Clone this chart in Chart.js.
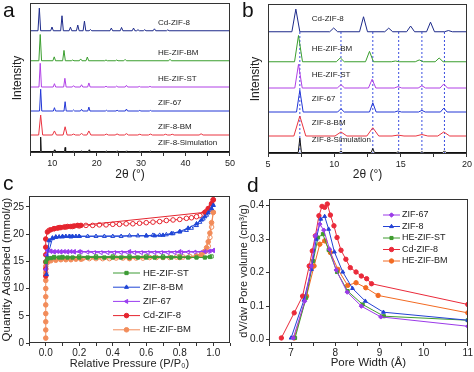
<!DOCTYPE html>
<html>
<head>
<meta charset="utf-8">
<script src="https://cdn.jsdelivr.net/npm/chart.js@4.4.1/dist/chart.umd.min.js"></script>
<style>
  body { margin: 0; background: #fff; }
  #wrap { position: relative; width: 474px; height: 372px; overflow: hidden; font-family: "Liberation Sans", Arial, sans-serif; }
  #wrap canvas { position: absolute; }
  .tag { position: absolute; font-size: 21px; line-height: 1; color: #111; }
</style>
</head>
<body>
<div id="wrap">
  <canvas id="xrdWide" width="237" height="186" style="left:0;top:0"></canvas>
  <canvas id="xrdZoom" width="237" height="186" style="left:237px;top:0"></canvas>
  <canvas id="isotherm" width="237" height="186" style="left:0;top:186px"></canvas>
  <canvas id="poreDist" width="237" height="186" style="left:237px;top:186px"></canvas>
  <div class="tag" style="left:3px;top:-1px">a</div>
  <div class="tag" style="left:242px;top:-1px">b</div>
  <div class="tag" style="left:3px;top:172px">c</div>
  <div class="tag" style="left:247px;top:174px">d</div>
</div>
<script>
// ---- XRD patterns (a, b): peak position (2θ), height above baseline ----
const xrdSamples = ['Cd-ZIF-8', 'HE-ZIF-BM', 'HE-ZIF-ST', 'ZIF-67', 'ZIF-8-BM', 'ZIF-8-Simulation'];
const xrdColors  = ['#1d2a8a', '#3a9e2e', '#b040e6', '#2236d6', '#ea3440', '#111111'];
const xrdOffsets = [81.5, 61.5, 44, 28, 12, 1];
const peakWidth  = [0.3, 0.3, 0.28, 0.25, 0.45, 0.12];

const peaksCd   = [[7.1,15.1],[9.95,2.5],[12.2,10],[14.1,2.4],[15.75,3.8],[17.25,6.4],[18.6,0.8],[23.3,1.8],[25.6,2.2],[28.3,1.8],[29.3,0.7],[30.8,0.7],[33.0,1.3],[36.0,0.6]];
const peaksHeBm = [[7.3,17.5],[10.45,2.6],[12.65,6.9],[14.6,0.5],[16.4,1.2],[17.9,2.5],[22.1,0.5],[24.5,0.5],[26.4,0.9],[36.5,1.0]];
const peaksHeSt = [[7.3,15.8],[10.5,2.2],[12.85,5.8],[14.8,0.9],[16.6,1.5],[18.25,2.7],[22.1,0.5],[24.5,0.6],[26.7,1.1],[29.6,0.4],[32.0,0.4]];
const peaksZ67  = [[7.4,14.5],[10.5,2.2],[12.9,6.2],[14.8,0.7],[16.6,1.1],[18.25,2.6],[22.2,0.5],[24.6,0.5],[26.7,1.3],[29.7,0.4],[32.1,0.4]];
const peaksZ8Bm = [[7.4,13.3],[10.5,2.7],[12.9,5.5],[14.8,0.6],[16.6,1.0],[18.25,2.7],[22.2,0.6],[24.6,0.7],[26.7,0.9],[29.7,0.5],[32.1,0.6],[35.5,0.5],[37.0,0.5],[43.5,0.8]];
const peaksSim  = [[7.4,9.6],[10.5,1.1],[12.9,2.7],[14.8,0.4],[16.6,0.5],[18.3,1.1],[22.2,0.3],[24.6,0.4],[26.7,0.4],[29.7,0.3],[32.1,0.3]];
const xrdPeaks  = [peaksCd, peaksHeBm, peaksHeSt, peaksZ67, peaksZ8Bm, peaksSim];

const guideLines = [7.4, 10.5, 12.9, 14.85, 16.6, 18.3];
const guideTop = 82;

// ---- N2 isotherms (c): [P/P0, mmol/g], adsorption filled, desorption open ----
const isoNames  = ['HE-ZIF-ST', 'ZIF-8-BM', 'ZIF-67', 'Cd-ZIF-8', 'HE-ZIF-BM'];
const isoColors = ['#3d9b35', '#1f45d6', '#9a3cf0', '#e5252f', '#f28c5a'];
const isoShapes = ['rect', 'triangle', 'triangle', 'circle', 'circle'];
const isoRotate = [0, 0, 270, 0, 0];

const stAds = [[0.0,14.9],[0.01,15.5],[0.03,15.6],[0.05,15.7],[0.08,15.7],[0.1,15.7],[0.13,15.7],[0.16,15.7],[0.2,15.7],[0.25,15.7],[0.3,15.7],[0.35,15.7],[0.4,15.7],[0.45,15.7],[0.5,15.7],[0.55,15.7],[0.6,15.7],[0.65,15.7],[0.7,15.7],[0.75,15.7],[0.8,15.7],[0.85,15.7],[0.9,15.7],[0.95,15.7],[0.98,15.8]];
const stDes = [[0.99,15.9],[0.9,15.9],[0.8,15.9],[0.7,15.9],[0.6,15.9],[0.5,15.9],[0.4,15.9],[0.3,15.9],[0.2,15.9],[0.1,15.8],[0.05,15.8]];
const bmAds = [[0.005,12.6],[0.01,15.8],[0.02,18.8],[0.04,19.3],[0.06,19.5],[0.08,19.5],[0.1,19.6],[0.12,19.6],[0.14,19.6],[0.16,19.6],[0.18,19.6],[0.2,19.6],[0.6,19.7],[0.65,19.7],[0.7,19.8],[0.75,20.1],[0.8,20.5],[0.85,21.1],[0.9,21.9],[0.93,22.6],[0.95,23.2],[0.97,23.9],[0.99,24.7],[1.0,25.3]];
const bmDes = [[1.0,25.3],[0.98,24.4],[0.96,23.5],[0.94,22.8],[0.92,22.2],[0.9,21.6],[0.87,21.1],[0.84,20.7],[0.8,20.4],[0.76,20.1],[0.72,19.9],[0.68,19.8],[0.64,19.8],[0.6,19.7],[0.55,19.7],[0.5,19.7],[0.45,19.6],[0.4,19.6],[0.35,19.6],[0.3,19.6],[0.25,19.6],[0.2,19.6],[0.15,19.5],[0.1,19.5],[0.06,19.4],[0.04,19.2],[0.02,17.0]];
const z67Ads = [[0.0,13.5],[0.005,16.2],[0.01,17.0],[0.03,16.9],[0.05,16.8],[0.07,16.8],[0.09,16.8],[0.11,16.8],[0.13,16.8],[0.15,16.8],[0.17,16.8],[0.2,16.8],[0.5,16.8],[0.8,16.8],[0.95,16.8],[0.98,16.9],[1.0,17.0]];
const z67Des = [[1.0,17.0],[0.97,16.8],[0.93,16.7],[0.89,16.7],[0.85,16.7],[0.81,16.6],[0.77,16.6],[0.73,16.6],[0.69,16.6],[0.65,16.6],[0.61,16.6],[0.57,16.6],[0.53,16.6],[0.49,16.6],[0.45,16.6],[0.41,16.6],[0.37,16.6],[0.33,16.6],[0.29,16.6],[0.25,16.7],[0.21,16.7],[0.17,16.7],[0.13,16.7],[0.09,16.7],[0.05,16.7],[0.03,16.8]];
const cdAds = [[0.0,12.3],[0.0,13.6],[0.0,14.9],[0.0,16.2],[0.0,17.6],[0.0,19.1],[0.01,20.4],[0.03,20.8],[0.05,21.0],[0.07,21.1],[0.09,21.2],[0.11,21.3],[0.13,21.4],[0.15,21.4],[0.17,21.5],[0.19,21.6],[0.21,21.6],[0.95,24.0],[0.97,24.7],[0.99,25.6],[1.0,26.3]];
const cdDes = [[1.0,26.3],[0.99,25.4],[0.98,24.8],[0.96,24.2],[0.94,23.7],[0.92,23.4],[0.9,23.2],[0.87,23.0],[0.84,22.9],[0.8,22.7],[0.76,22.6],[0.72,22.5],[0.68,22.3],[0.64,22.2],[0.6,22.1],[0.56,22.0],[0.52,21.9],[0.48,21.9],[0.44,21.8],[0.4,21.8],[0.36,21.7],[0.32,21.7],[0.28,21.6],[0.24,21.6],[0.2,21.5],[0.16,21.4],[0.12,21.3],[0.08,21.2],[0.05,21.0],[0.02,20.7]];
const beAds = [[0.0,0.9],[0.0,2.4],[0.0,3.9],[0.0,5.4],[0.0,7.0],[0.0,8.5],[0.0,10.0],[0.0,11.5],[0.0,12.9],[0.0,14.1],[0.01,14.8],[0.03,15.1],[0.06,15.2],[0.09,15.3],[0.12,15.3],[0.15,15.3],[0.18,15.4],[0.21,15.4],[0.5,15.5],[0.8,15.7],[0.9,15.9],[0.93,16.2],[0.95,16.8],[0.96,17.5],[0.97,18.6],[0.98,20.2],[0.99,22.1],[1.0,24.0]];
const beDes = [[1.0,24.0],[0.99,21.3],[0.98,19.4],[0.97,17.8],[0.95,16.8],[0.93,16.3],[0.9,16.0],[0.86,15.9],[0.82,15.8],[0.78,15.8],[0.74,15.7],[0.7,15.7],[0.66,15.7],[0.62,15.7],[0.58,15.6],[0.54,15.6],[0.5,15.6],[0.46,15.6],[0.42,15.6],[0.38,15.5],[0.34,15.5],[0.3,15.5],[0.26,15.5],[0.22,15.5]];
const isoAds = [stAds, bmAds, z67Ads, cdAds, beAds];
const isoDes = [stDes, bmDes, z67Des, cdDes, beDes];

// ---- pore size distribution (d): [width Å, dV/dw] ----
const poreNames  = ['ZIF-67', 'ZIF-8', 'HE-ZIF-ST', 'Cd-ZIF-8', 'HE-ZIF-BM'];
const poreColors = ['#9b3ae8', '#2442d4', '#3f9c2f', '#ea2a3a', '#f26a22'];
const poreShapes = ['rectRot', 'triangle', 'rect', 'circle', 'circle'];
const poreZ67 = [[7.05,0.005],[7.31,0.115],[7.46,0.22],[7.55,0.31],[7.65,0.345],[7.74,0.327],[7.87,0.27],[8.02,0.208],[8.27,0.142],[8.59,0.10],[9.03,0.068],[11,0.04]];
const poreZ8  = [[7.0,0.005],[7.29,0.118],[7.46,0.21],[7.57,0.30],[7.67,0.36],[7.76,0.368],[7.85,0.33],[7.98,0.262],[8.17,0.202],[8.39,0.153],[8.68,0.115],[9.09,0.082],[11,0.058]];
const poreSt  = [[7.09,0.005],[7.34,0.125],[7.5,0.235],[7.61,0.305],[7.72,0.315],[7.85,0.268],[8.04,0.202],[8.28,0.145],[8.62,0.105],[9.1,0.07],[11,0.058]];
const poreCd  = [[6.78,0.005],[7.07,0.08],[7.26,0.13],[7.41,0.22],[7.48,0.265],[7.55,0.31],[7.63,0.37],[7.7,0.398],[7.76,0.395],[7.82,0.405],[7.89,0.372],[7.97,0.34],[8.04,0.305],[8.13,0.267],[8.24,0.24],[8.34,0.215],[8.47,0.202],[8.59,0.19],[8.71,0.182],[8.82,0.167],[11,0.105]];
const poreBm  = [[7.07,0.005],[7.35,0.13],[7.52,0.22],[7.65,0.285],[7.76,0.295],[7.89,0.26],[8.06,0.21],[8.28,0.162],[8.47,0.17],[8.69,0.155],[8.97,0.132],[11,0.08]];
const poreData = [poreZ67, poreZ8, poreSt, poreCd, poreBm];

Chart.defaults.font.family = '"Liberation Sans", Arial, sans-serif';
Chart.defaults.color = '#222';
Chart.defaults.animation = false;

const toXY = arr => arr.map(p => ({x: p[0], y: p[1]}));

// polyline through baseline and peak tops
function pattern(peaks, base, hw) {
  const pts = [{x: 5, y: base}];
  peaks.forEach(([pos, h]) => {
    pts.push({x: pos - hw, y: base}, {x: pos, y: base + h}, {x: pos + hw, y: base});
  });
  pts.push({x: 50, y: base});
  return pts;
}

const frame = {
  id: 'frame',
  afterDatasetsDraw(chart) {
    const {ctx, chartArea: a} = chart;
    ctx.save();
    ctx.strokeStyle = '#333';
    ctx.lineWidth = 1;
    ctx.strokeRect(Math.round(a.left) + 0.5, Math.round(a.top) + 0.5,
                   Math.round(a.right - a.left) - 1, Math.round(a.bottom - a.top) - 1);
    ctx.restore();
  }
};

const sampleLabels = {
  id: 'sampleLabels',
  afterDatasetsDraw(chart, args, opts) {
    if (!opts.names) return;
    const {ctx, scales} = chart;
    ctx.save();
    ctx.font = opts.font;
    ctx.fillStyle = '#222';
    ctx.textBaseline = 'middle';
    opts.names.forEach((n, i) => {
      ctx.fillText(n, scales.x.getPixelForValue(opts.x), scales.y.getPixelForValue(opts.offsets[i] + opts.lift));
    });
    ctx.restore();
  }
};

const insetLegend = {
  id: 'insetLegend',
  afterDatasetsDraw(chart, args, opts) {
    if (!opts.items) return;
    const {ctx, chartArea: a} = chart;
    ctx.save();
    ctx.font = opts.font;
    ctx.textBaseline = 'middle';
    opts.items.forEach((idx, i) => {
      const ds = chart.data.datasets[idx];
      const x0 = a.left + opts.left;
      const y = a.top + opts.top + i * opts.rowH;
      ctx.strokeStyle = ds.borderColor;
      ctx.lineWidth = 1;
      ctx.beginPath();
      ctx.moveTo(x0, y);
      ctx.lineTo(x0 + opts.lineLen, y);
      ctx.stroke();
      ctx.fillStyle = ds.pointBackgroundColor;
      ctx.strokeStyle = ds.pointBorderColor;
      if (Chart.helpers && Chart.helpers.drawPoint) {
        Chart.helpers.drawPoint(ctx, {pointStyle: ds.pointStyle, radius: ds.pointRadius,
          rotation: ds.pointRotation || 0, borderWidth: 1}, x0 + opts.lineLen / 2, y);
      } else {
        ctx.beginPath(); ctx.arc(x0 + opts.lineLen / 2, y, ds.pointRadius, 0, Math.PI * 2); ctx.fill();
      }
      ctx.fillStyle = '#222';
      ctx.fillText(ds.label, x0 + opts.lineLen + opts.gap, y);
    });
    ctx.restore();
  }
};

function xAxis(min, max, step, fmt, title, titleSize, titlePad, h, tickSize, tickPad) {
  return {
    type: 'linear', min: min, max: max,
    afterFit: s => { s.height = h; },
    border: {display: false},
    grid: {display: true, drawOnChartArea: false, drawTicks: true, tickLength: 3, color: '#333'},
    ticks: {stepSize: step, autoSkip: false, maxRotation: 0, includeBounds: false, padding: tickPad,
            font: {size: tickSize}, callback: fmt},
    title: {display: true, text: title, font: {size: titleSize}, padding: {top: 0, bottom: titlePad}}
  };
}

function xrdChart(id, xmin, xmax, step, fmt, pad, yWidth, xHeight, titlePadTop, labelX, labelLift, withGuides) {
  const datasets = xrdSamples.map((name, i) => ({
    label: name,
    data: pattern(xrdPeaks[i], xrdOffsets[i], peakWidth[i]),
    borderColor: xrdColors[i],
    borderWidth: 1,
    pointRadius: 0,
    showLine: true
  }));
  if (withGuides) {
    guideLines.forEach(g => datasets.push({
      label: 'guide',
      data: [{x: g, y: 0}, {x: g, y: guideTop}],
      borderColor: '#3b4fe0',
      borderWidth: 1,
      borderDash: [2, 2],
      pointRadius: 0,
      showLine: true
    }));
  }
  return new Chart(document.getElementById(id), {
    type: 'scatter',
    data: {datasets: datasets},
    options: {
      responsive: false,
      devicePixelRatio: 1,
      layout: {padding: pad},
      plugins: {
        legend: {display: false},
        tooltip: {enabled: false},
        sampleLabels: {names: xrdSamples, offsets: xrdOffsets, x: labelX, lift: labelLift,
                       font: '8px "Liberation Sans", Arial, sans-serif'}
      },
      scales: {
        x: xAxis(xmin, xmax, step, fmt, '2θ (°)', 12, 4, xHeight, 9, 2),
        y: {
          type: 'linear', min: 0, max: 100,
          afterFit: s => { s.width = yWidth; },
          border: {display: false},
          grid: {display: false},
          ticks: {display: false},
          title: {display: true, text: 'Intensity', font: {size: 12}, padding: {top: titlePadTop, bottom: 0}}
        }
      }
    },
    plugins: [frame, sampleLabels]
  });
}

xrdChart('xrdWide', 5, 50, 5, v => (v % 10 === 0 ? v : ''),
         {left: 0, top: 3, right: 7, bottom: 0}, 30, 33, 10, 33.8, 5.5, false);
xrdChart('xrdZoom', 5, 20, 2.5, v => (v % 5 === 0 ? v : ''),
         {left: 0, top: 4, right: 6, bottom: 0}, 31, 32, 11, 8.3, 8.5, true);

// ---- panel c ----
const isoSets = [];
isoNames.forEach((name, i) => {
  isoSets.push({
    label: name, data: toXY(isoAds[i]), showLine: true,
    borderColor: isoColors[i], borderWidth: 1,
    pointStyle: isoShapes[i], pointRotation: isoRotate[i], pointRadius: 2.3,
    pointBackgroundColor: isoColors[i], pointBorderColor: isoColors[i], pointBorderWidth: 1
  });
});
isoNames.forEach((name, i) => {
  isoSets.push({
    label: name + ' des', data: toXY(isoDes[i]), showLine: true,
    borderColor: isoColors[i], borderWidth: 1,
    pointStyle: isoShapes[i], pointRotation: isoRotate[i], pointRadius: 2.3,
    pointBackgroundColor: '#ffffff', pointBorderColor: isoColors[i], pointBorderWidth: 1
  });
});

new Chart(document.getElementById('isotherm'), {
  type: 'scatter',
  data: {datasets: isoSets},
  options: {
    responsive: false,
    devicePixelRatio: 1,
    layout: {padding: {left: 0, top: 10, right: 7, bottom: 0}},
    plugins: {
      legend: {display: false},
      tooltip: {enabled: false},
      insetLegend: {items: [0, 1, 2, 3, 4], left: 84, top: 77, rowH: 14.2, lineLen: 27, gap: 3,
                    font: '9.5px "Liberation Sans", Arial, sans-serif'}
    },
    scales: {
      x: xAxis(-0.1, 1.1, 0.1, v => {
        const r = Math.round(v * 10);
        return (r % 2 === 0 && r >= 0 && r <= 10) ? (r / 10).toFixed(1) : '';
      }, 'Relative Pressure (P/P₀)', 11, 1, 29, 10, 1),
      y: {
        type: 'linear', min: 0, max: 27,
        afterFit: s => { s.width = 29; },
        border: {display: false},
        grid: {display: true, drawOnChartArea: false, drawTicks: true, tickLength: 3, color: '#333'},
        ticks: {stepSize: 5, includeBounds: false, padding: 2, font: {size: 10}},
        title: {display: true, text: 'Quantity Adsorbed (mmol/g)', font: {size: 11.5}, padding: {top: 0, bottom: 0}}
      }
    }
  },
  plugins: [frame, insetLegend]
});

// ---- panel d ----
new Chart(document.getElementById('poreDist'), {
  type: 'scatter',
  data: {
    datasets: poreNames.map((name, i) => ({
      label: name, data: toXY(poreData[i]), showLine: true,
      borderColor: poreColors[i], borderWidth: 1,
      pointStyle: poreShapes[i], pointRadius: 2.2,
      pointBackgroundColor: poreColors[i], pointBorderColor: poreColors[i], pointBorderWidth: 1
    }))
  },
  options: {
    responsive: false,
    devicePixelRatio: 1,
    layout: {padding: {left: 0, top: 13, right: 5, bottom: 0}},
    plugins: {
      legend: {display: false},
      tooltip: {enabled: false},
      insetLegend: {items: [0, 1, 2, 3, 4], left: 114, top: 16, rowH: 11.5, lineLen: 17, gap: 2,
                    font: '9px "Liberation Sans", Arial, sans-serif'}
    },
    scales: {
      x: xAxis(6.5, 11, 0.5, v => (Number.isInteger(v) ? v : ''), 'Pore Width (Å)', 11.5, 2, 29, 10, 1),
      y: {
        type: 'linear', min: -0.01, max: 0.42,
        afterFit: s => { s.width = 32; },
        border: {display: false},
        grid: {display: true, drawOnChartArea: false, drawTicks: true, tickLength: 3, color: '#333'},
        ticks: {stepSize: 0.1, includeBounds: false, padding: 2, font: {size: 10},
                callback: v => v.toFixed(1)},
        title: {display: true, text: 'dV/dw Pore volume (cm³/g)', font: {size: 11}, padding: {top: 0, bottom: 0}}
      }
    }
  },
  plugins: [frame, insetLegend]
});
</script>
</body>
</html>
